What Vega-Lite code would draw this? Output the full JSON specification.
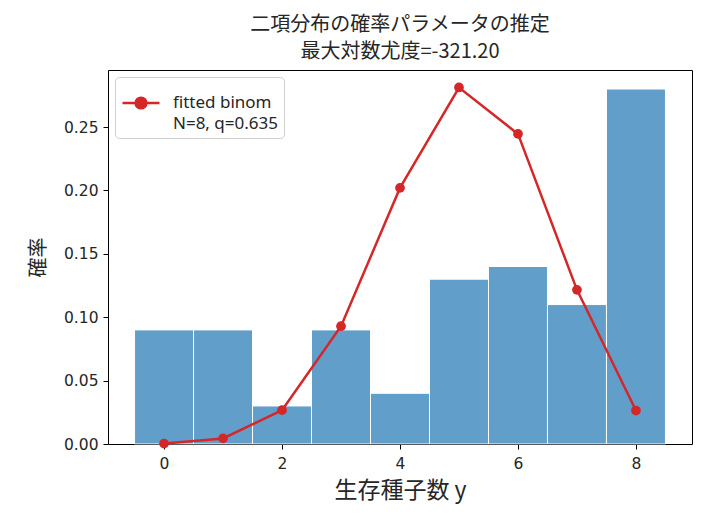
{
  "$schema": "https://vega.github.io/schema/vega-lite/v6.json",
  "width": 584,
  "height": 374,
  "autosize": "none",
  "padding": {"left": 108, "top": 70, "right": 19, "bottom": 78},
  "title": {
    "text": ["二項分布の確率パラメータの推定", "最大対数尤度=-321.20"],
    "fontSize": 20,
    "fontWeight": "normal",
    "lineHeight": 27,
    "offset": 8,
    "color": "#262626"
  },
  "data": {
    "values": [
      {"y": 0, "lo": -0.5, "hi": 0.5, "freq": 0.09, "pmf": 0.0003},
      {"y": 1, "lo": 0.5, "hi": 1.5, "freq": 0.09, "pmf": 0.0044},
      {"y": 2, "lo": 1.5, "hi": 2.5, "freq": 0.03, "pmf": 0.0267},
      {"y": 3, "lo": 2.5, "hi": 3.5, "freq": 0.09, "pmf": 0.0929},
      {"y": 4, "lo": 3.5, "hi": 4.5, "freq": 0.04, "pmf": 0.2020},
      {"y": 5, "lo": 4.5, "hi": 5.5, "freq": 0.13, "pmf": 0.2812},
      {"y": 6, "lo": 5.5, "hi": 6.5, "freq": 0.14, "pmf": 0.2446},
      {"y": 7, "lo": 6.5, "hi": 7.5, "freq": 0.11, "pmf": 0.1216},
      {"y": 8, "lo": 7.5, "hi": 8.5, "freq": 0.28, "pmf": 0.0264}
    ]
  },
  "layer": [
    {
      "mark": {"type": "bar", "color": "#1f77b4", "opacity": 0.7, "stroke": "white", "strokeWidth": 1},
      "encoding": {
        "x": {
          "field": "lo",
          "type": "quantitative",
          "scale": {"domain": [-0.95, 8.95], "nice": false},
          "axis": {"values": [0, 2, 4, 6, 8], "format": "d", "title": "生存種子数 y", "titleFontSize": 23, "titlePadding": 8, "labelPadding": 7}
        },
        "x2": {"field": "hi"},
        "y": {
          "field": "freq",
          "type": "quantitative",
          "scale": {"domain": [0, 0.295], "nice": false},
          "axis": {"values": [0, 0.05, 0.1, 0.15, 0.2, 0.25], "format": ".2f", "title": "確率", "titleFontSize": 20, "titlePadding": 15, "labelPadding": 5}
        },
        "y2": {"datum": 0}
      }
    },
    {
      "mark": {"type": "line", "strokeWidth": 2.5, "point": {"filled": true, "size": 95, "opacity": 1}},
      "encoding": {
        "x": {"field": "y", "type": "quantitative"},
        "y": {"field": "pmf", "type": "quantitative"},
        "color": {
          "datum": "fitted binom",
          "scale": {"range": ["#d62728"]},
          "legend": {
            "title": null,
            "orient": "top-left",
            "offset": 7,
            "labelExpr": "['fitted binom', 'N=8, q=0.635']",
            "labelFont": "Noto Sans",
            "labelFontSize": 17,
            "labelColor": "#262626",
            "symbolType": "M-1,0H1M-0.29,0A0.29,0.29 0 1,0 0.29,0A0.29,0.29 0 1,0 -0.29,0Z",
            "symbolSize": 1369,
            "symbolStrokeWidth": 2.5,
            "symbolFillColor": "#d62728",
            "symbolStrokeColor": "#d62728",
            "labelOffset": 12,
            "padding": 6,
            "strokeColor": "#d0d0d0",
            "fillColor": "white",
            "cornerRadius": 4
          }
        }
      }
    }
  ],
  "config": {
    "font": "Noto Sans CJK JP",
    "style": {"guide-label": {"lineHeight": 21}},
    "view": {"stroke": "black", "strokeWidth": 1},
    "axis": {
      "grid": false,
      "domain": false,
      "tickColor": "black",
      "tickSize": 5,
      "labelFont": "DejaVu Sans",
      "labelFontSize": 15.5,
      "labelColor": "#262626",
      "titleColor": "#262626",
      "titleFontWeight": "normal"
    }
  }
}
